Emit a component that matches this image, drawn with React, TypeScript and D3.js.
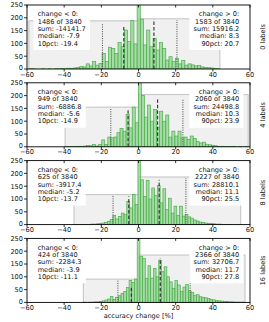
import React, { useEffect, useRef } from "react";
import * as d3 from "d3";

const xTicks = [-60, -40, -20, 0, 20, 40, 60];
const yTicks = [0, 50, 100, 150, 200, 250];
const panelLabels = ["0 labels", "4 labels", "8 labels", "16 labels"];
const totalN = 3840;

// histogram counts: 60 bins spanning [dataMin, dataMax]
const counts0 = [1,1,0,0,1,0,1,0,1, 1,2,1,3,2,4,6,10,8,20, 12,29,15,22,61,29,85,80,61,103, 87,152,107,189,98,800,195,94,152,87, 120,74,103,80,35,48,30,42,20,33, 15,20,16,12,14,8,6,5,4,2, 1];
const counts4 = [1,1,1,1,2,2,3,5,4, 9,3,9,27,9,38,35,38,55,71, 61,126,74,155,94,850,201,116,163,100, 146,77,139,100,124,38,61,42,61,35, 38,29,42,33,20,15,18,10,8,6, 4,2,2,1,1,1,1,0,1,0, 1];
const counts8 = [1,0,1,1,1,1,2,2, 3,4,6,9,12,20,35,22,32,45, 39,91,65,117,78,1000,175,110,173,100, 143,113,152,85,140,58,103,45,72,35, 72,33,39,30,25,18,14,10,8,6, 5,4,3,2,2,1,1,1,1,0, 1,1];
const counts16 = [1,0,1,1,2, 2,3,6,9,13,23,12,20,26,35, 43,58,85,78,91,1050,180,172,94,143, 95,133,100,165,120,139,100,80,55,85, 68,42,60,70,45,39,28,30,22,20, 18,15,12,10,8,6,5,4,3,2, 2,1,1,1,1];
const allCounts = [counts0, counts4, counts8, counts16];

const dataMin = [-59, -39.5, -34.7, -29.7];
const dataMax = [43.8, 59, 55, 57.3];

const negCount = [1486, 949, 625, 424];
const posCount = [1583, 2060, 2227, 2366];
const negSum = ["-14141.7", "-6886.8", "-3917.4", "-2284.3"];
const posSum = ["15916.2", "24498.8", "28810.1", "32706.7"];
const negMedian = [-7.9, -5.6, -5.2, -3.9];
const posMedian = [8.3, 10.3, 11.1, 11.7];
const pct10 = [-19.4, -14.9, -13.7, -11.1];
const pct90 = [20.7, 23.9, 25.5, 27.8];

const negBoxHeight = [188, 155, 117, 91];
const posBoxHeight = [196, 204, 186, 185];
const negMedianLine = [171, 143, 110, 58];
const negPctLine = [175, 150, 117, 88];
const posMedianLine = [194, 185, 175, 173];
const posPctLine = [191, 185, 182, 178];

const FONT = "DejaVu Sans";
const FS = 6.6;

export default function App() {
  const ref = useRef<SVGSVGElement>(null);
  useEffect(() => {
    const svg = d3.select(ref.current);
    svg.selectAll("*").remove();
    const x = d3.scaleLinear().domain([-60, 60]).range([27, 250]);
    const H = 64;
    const fmtTick = (v: number) => (v < 0 ? "\u2212" + Math.abs(v) : String(v));

    allCounts.forEach((counts, i) => {
      const top = 5 + i * 77.8;
      const bottom = top + H;
      const y = d3.scaleLinear().domain([0, 250]).range([bottom, top]);
      const g = svg.append("g");
      const clipId = "clip" + i;
      svg.append("defs").append("clipPath").attr("id", clipId)
        .append("rect").attr("x", x(-60)).attr("y", top).attr("width", x(60) - x(-60)).attr("height", H);
      const plot = g.append("g").attr("clip-path", `url(#${clipId})`);

      // gray spans
      plot.append("rect").attr("x", x(dataMin[i])).attr("y", y(negBoxHeight[i]))
        .attr("width", x(0) - x(dataMin[i])).attr("height", y(0) - y(negBoxHeight[i]))
        .attr("fill", "#f0f0f0").attr("stroke", "#c2c2c2").attr("stroke-width", 1);
      plot.append("rect").attr("x", x(0)).attr("y", y(posBoxHeight[i]))
        .attr("width", x(dataMax[i]) - x(0)).attr("height", y(0) - y(posBoxHeight[i]))
        .attr("fill", "#f0f0f0").attr("stroke", "#c2c2c2").attr("stroke-width", 1);

      // bars
      const bw = (dataMax[i] - dataMin[i]) / counts.length;
      plot.selectAll("rect.bar").data(counts).enter().append("rect")
        .attr("class", "bar")
        .attr("x", (_d, k) => x(dataMin[i] + k * bw))
        .attr("width", x(bw) - x(0))
        .attr("y", (d) => y(d))
        .attr("height", (d) => y(0) - y(d))
        .attr("fill", "rgb(146,214,146)").attr("fill-opacity", 0.8)
        .attr("stroke", "rgb(76,174,76)").attr("stroke-width", 0.7);

      // stat lines
      const vline = (v: number, h: number, dashed: boolean) =>
        plot.append("line").attr("x1", x(v)).attr("x2", x(v)).attr("y1", y(0)).attr("y2", y(h))
          .attr("stroke", dashed ? "#1a1a1a" : "#444").attr("stroke-width", 1)
          .attr("stroke-dasharray", dashed ? "3.5,2" : "1,1.3");
      vline(negMedian[i], negMedianLine[i], true);
      vline(pct10[i], negPctLine[i], false);
      vline(posMedian[i], posMedianLine[i], true);
      vline(pct90[i], posPctLine[i], false);

      // text boxes
      const leftLines = ["change < 0:", `${negCount[i]} of ${totalN}`, `sum: ${negSum[i]}`, `median: ${negMedian[i]}`, `10pct: ${pct10[i]}`];
      const rightLines = ["change > 0:", `${posCount[i]} of ${totalN}`, `sum: ${posSum[i]}`, `median: ${posMedian[i]}`, `90pct: ${pct90[i]}`];
      const box = (lines: string[], tx: number, anchor: string) => {
        const bg = g.append("g");
        const rect = bg.append("rect").attr("fill", "white").attr("fill-opacity", 0.92);
        const t = bg.append("text").attr("font-family", FONT).attr("font-size", FS).attr("fill", "#111")
          .attr("text-anchor", anchor);
        lines.forEach((l, k) => {
          t.append("tspan").attr("x", tx).attr("y", top + 11.3 + k * 7.3).text(l);
        });
        const bb = (t.node() as SVGTextElement).getBBox();
        rect.attr("x", bb.x - 4.3).attr("y", bb.y - 2.5).attr("width", bb.width + 8.6).attr("height", bb.height + 5);
      };
      box(leftLines, 37.7, "start");
      box(rightLines, 239.2, "end");

      // frame
      g.append("rect").attr("x", x(-60)).attr("y", top).attr("width", x(60) - x(-60)).attr("height", H)
        .attr("fill", "none").attr("stroke", "#000").attr("stroke-width", 0.9);

      // y ticks
      yTicks.forEach((v) => {
        g.append("line").attr("x1", x(-60) - 3).attr("x2", x(-60)).attr("y1", y(v)).attr("y2", y(v))
          .attr("stroke", "#000").attr("stroke-width", 0.8);
        g.append("text").attr("x", x(-60) - 4).attr("y", y(v) + (v === 0 ? 1.3 : 2.3)).attr("text-anchor", "end")
          .attr("font-family", FONT).attr("font-size", FS).attr("fill", "#111").text(String(v));
      });
      // x ticks
      xTicks.forEach((v) => {
        g.append("line").attr("x1", x(v)).attr("x2", x(v)).attr("y1", bottom).attr("y2", bottom + 2.5)
          .attr("stroke", "#000").attr("stroke-width", 0.8);
        g.append("line").attr("x1", x(v)).attr("x2", x(v)).attr("y1", top).attr("y2", top + 2.5)
          .attr("stroke", "#000").attr("stroke-width", 0.8);
        g.append("text").attr("x", x(v)).attr("y", bottom + 7.6).attr("text-anchor", "middle")
          .attr("font-family", FONT).attr("font-size", FS).attr("fill", "#111").text(fmtTick(v));
      });
      // side label
      g.append("text").attr("transform", `translate(264.5,${top + H / 2}) rotate(-90)`)
        .attr("text-anchor", "middle").attr("font-family", FONT).attr("font-size", FS).attr("fill", "#111")
        .text(panelLabels[i]);
    });

    svg.append("text").attr("x", x(0)).attr("y", 317.5).attr("text-anchor", "middle")
      .attr("font-family", FONT).attr("font-size", FS).attr("fill", "#111").text("accuracy change [%]");
  }, []);
  return (
    <svg ref={ref} width={269} height={322}
      style={{ position: "fixed", left: 0, top: 0, display: "block", background: "white" }} />
  );
}
